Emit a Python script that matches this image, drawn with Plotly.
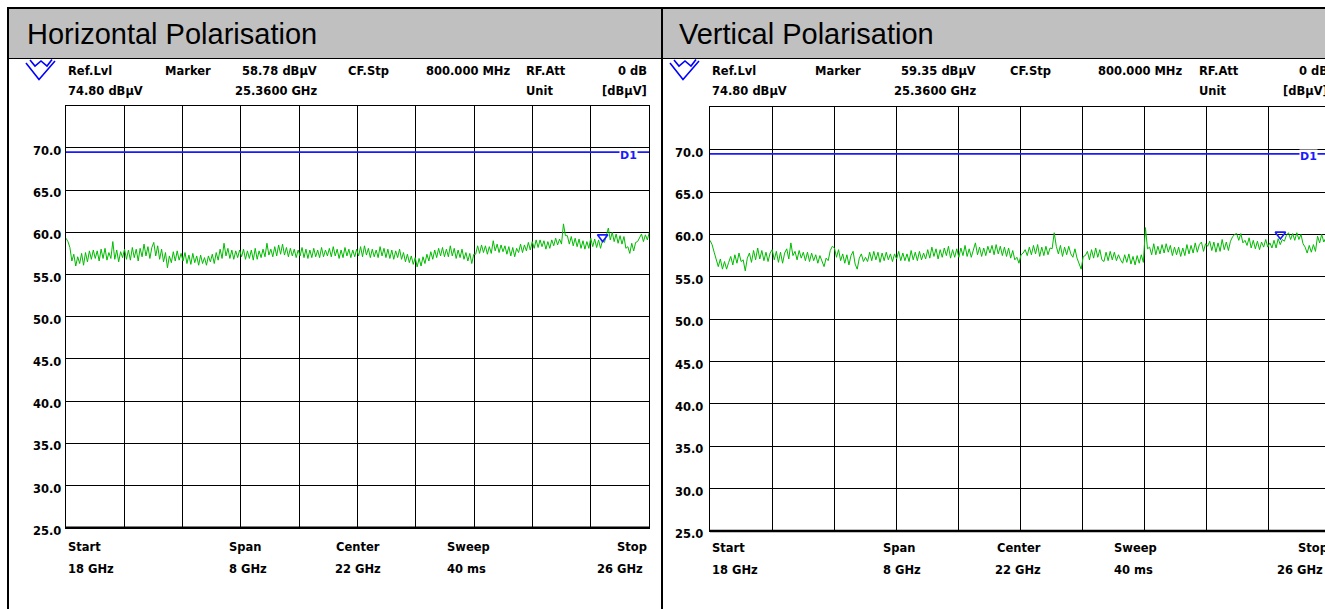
import numpy as np
import plotly.graph_objects as go

# ---------------- data ----------------
start_ghz = 18.0
stop_ghz = 26.0
y_ticks = [25, 30, 35, 40, 45, 50, 55, 60, 65, 70]
y_bottom = 25.0
y_top = 75.0
d1_level = 69.5

titles = ["Horizontal Polarisation", "Vertical Polarisation"]
marker_freq = [25.36, 25.36]
marker_level = [58.78, 59.35]
marker_text = ["58.78 dBµV", "59.35 dBµV"]

h_level = [
    59.3, 58.9, 58.2, 56.6, 57.4, 56.0, 57.1, 56.3, 57.5, 56.1, 57.6, 56.5, 57.8, 56.8, 57.9,
    56.9, 57.8, 56.6, 58.0, 56.9, 58.1, 56.7, 57.6, 56.9, 58.9, 56.8, 57.9, 56.5, 57.7, 57.0,
    58.0, 56.8, 57.9, 56.7, 58.2, 57.0, 58.0, 56.6, 58.1, 57.1, 58.6, 57.2, 58.3, 56.9, 58.2,
    58.8, 57.2, 58.4, 56.8, 58.0, 56.5, 57.6, 55.8, 57.2, 56.4, 57.7, 56.6, 57.8, 56.7, 57.5,
    56.6, 57.6, 56.3, 57.3, 56.2, 57.5, 56.4, 57.2, 56.1, 57.3, 56.3, 57.0, 56.1, 57.2, 56.5,
    57.4, 56.3, 57.6, 56.7, 58.0, 56.9, 58.7, 57.2, 58.1, 56.9, 57.9, 56.8, 57.8, 57.0, 57.9,
    57.1, 58.0, 56.8, 57.8, 56.9, 57.9, 56.7, 58.1, 56.8, 57.8, 57.0, 58.0, 57.1, 58.7, 57.3,
    58.0, 57.1, 58.3, 57.2, 58.5, 57.4, 58.6, 57.3, 58.2, 57.1, 58.1, 57.2, 58.0, 57.0, 57.9,
    57.2, 58.2, 57.0, 58.0, 56.9, 57.9, 57.0, 58.1, 57.1, 57.9, 57.0, 58.2, 57.1, 57.9, 57.2,
    58.1, 57.1, 58.3, 57.2, 58.0, 56.9, 57.9, 57.0, 58.2, 57.2, 58.0, 57.0, 57.9, 57.1, 58.0,
    57.2, 58.3, 57.1, 58.4, 57.3, 58.1, 57.0, 58.0, 57.1, 57.9, 57.0, 58.3, 57.2, 58.1, 57.0,
    58.0, 56.9, 57.9, 56.8, 57.8, 57.0, 58.0, 56.8, 57.6, 56.5, 57.4, 56.4, 57.2, 56.2, 57.0,
    55.9, 56.9, 56.0, 57.1, 56.3, 57.4, 56.6, 57.7, 56.8, 57.9, 57.0, 58.1, 57.2, 58.2, 57.1,
    58.0, 57.1, 58.4, 57.2, 58.1, 56.9, 57.9, 57.0, 58.0, 56.8, 57.6, 56.6, 57.5, 56.3, 57.4,
    57.4, 58.4, 57.5, 58.5, 57.6, 58.4, 57.4, 58.3, 57.5, 59.0, 57.8, 58.6, 57.6, 58.5, 57.7,
    58.4, 57.4, 58.3, 57.2, 58.2, 57.1, 58.1, 57.6, 58.6, 57.6, 58.5, 57.8, 58.8, 57.9, 58.9,
    58.1, 59.1, 58.2, 59.1, 58.3, 59.0, 58.0, 58.9, 58.1, 59.1, 58.4, 59.3, 58.5, 59.2, 58.6,
    61.0, 59.6, 59.6, 58.6, 59.5, 58.4, 59.3, 58.3, 59.2, 58.1, 59.0, 58.0, 58.9, 58.1, 59.3,
    58.3, 59.2, 58.2, 59.1, 58.1, 59.0, 58.8, 59.8, 60.5, 59.1, 60.0, 58.9, 59.8, 58.7, 59.6,
    58.6, 59.5, 58.1, 58.3, 57.5, 58.7, 57.8, 58.8, 58.9, 59.3, 59.8, 58.9, 59.7, 59.1, 60.0,
]

v_level = [
    59.3, 58.8, 57.9, 57.0, 56.2, 57.1, 55.9, 56.8, 55.9, 56.7, 57.4, 56.4, 57.6, 56.6, 57.8,
    56.8, 57.0, 55.7, 57.2, 57.8, 56.7, 58.1, 57.0, 58.4, 57.1, 58.1, 56.9, 57.9, 56.8, 57.8,
    58.2, 57.0, 58.0, 56.7, 57.9, 56.6, 57.8, 58.3, 57.1, 59.0, 57.5, 58.0, 57.0, 58.1, 57.2,
    57.9, 56.9, 57.9, 56.8, 57.8, 56.9, 57.6, 56.6, 57.5, 56.8, 56.2, 57.2, 56.9, 58.1, 58.6,
    58.4, 57.3, 58.2, 56.9, 57.7, 56.6, 57.6, 56.4, 57.5, 58.0, 56.5, 55.9, 57.2, 57.7, 56.8,
    57.3, 56.8, 57.9, 56.9, 58.0, 57.0, 57.9, 56.7, 57.8, 56.9, 57.9, 57.0, 57.7, 56.8, 57.7,
    57.1, 58.0, 56.9, 57.8, 56.9, 57.7, 56.8, 58.1, 57.0, 57.9, 56.9, 58.0, 57.0, 57.8, 57.1,
    58.2, 57.2, 58.5, 57.4, 58.3, 57.1, 58.2, 57.3, 58.4, 57.5, 58.6, 57.2, 58.2, 57.3, 58.3,
    57.3, 58.4, 57.5, 58.7, 57.4, 58.3, 57.3, 58.2, 59.0, 57.6, 58.5, 57.4, 58.4, 57.5, 58.6,
    57.8, 58.7, 57.6, 58.8, 57.7, 58.6, 57.5, 58.5, 57.4, 58.4, 57.2, 58.1, 57.0, 57.3, 56.6,
    57.6, 57.8, 58.2, 57.5, 58.5, 57.6, 58.7, 57.7, 58.8, 57.4, 58.5, 57.5, 58.6, 57.6, 58.4,
    58.3, 60.2, 58.6, 57.7, 58.7, 57.4, 58.5, 57.6, 58.6, 57.7, 57.3, 58.3, 57.2, 56.6, 55.9,
    57.4, 57.5, 58.0, 57.0, 58.2, 57.2, 58.4, 57.3, 58.2, 57.0, 56.8, 57.9, 56.9, 58.0, 57.0,
    57.9, 56.9, 57.6, 57.0, 56.6, 57.6, 56.7, 57.7, 56.5, 57.4, 56.4, 57.5, 56.6, 57.6, 56.7,
    60.8, 58.3, 58.5, 57.6, 58.9, 57.6, 58.6, 57.7, 58.8, 57.8, 58.9, 57.9, 58.7, 57.5, 58.5,
    57.6, 58.5, 57.4, 58.4, 57.5, 58.8, 57.7, 58.7, 57.8, 59.0, 57.9, 58.8, 59.1, 58.0, 58.9,
    58.6, 59.2, 58.1, 59.1, 57.9, 59.0, 58.0, 59.4, 58.2, 59.1, 58.1, 59.2, 59.7, 60.0, 60.1,
    59.3, 60.1, 59.0, 59.3, 58.7, 59.6, 58.4, 59.3, 58.3, 59.2, 58.2, 59.1, 58.5, 59.4, 58.5,
    59.0, 58.4, 59.3, 58.4, 59.5, 58.8, 59.4, 59.2, 59.9, 60.2, 59.4, 60.1, 59.3, 60.2, 59.4,
    60.0, 58.9, 58.5, 57.8, 58.7, 57.9, 58.8, 58.0, 59.8, 59.0, 60.0, 59.1, 59.7, 60.1, 59.5,
]
levels = [h_level, v_level]

header_row1 = [("Ref.Lvl", 0.0, "left"), ("Marker", 0.166, "left"), (None, 0.433, "right"),
               ("CF.Stp", 0.48, "left"), ("800.000 MHz", 0.764, "right"),
               ("RF.Att", 0.785, "left"), ("0 dB", 1.0, "right")]
header_row2 = [("74.80 dBµV", 0.0, "left"), ("25.3600 GHz", 0.433, "right"),
               ("Unit", 0.786, "left"), ("[dBµV]", 1.0, "right")]
footer_row1 = [("Start", 0.0, "left"), ("Span", 0.276, "left"), ("Center", 0.46, "left"),
               ("Sweep", 0.649, "left"), ("Stop", 1.0, "right")]
footer_row2 = [("18 GHz", 0.0, "left"), ("8 GHz", 0.276, "left"), ("22 GHz", 0.457, "left"),
               ("40 ms", 0.649, "left"), ("26 GHz", 0.992, "right")]

# ---------------- layout geometry ----------------
W, H = 1325, 609
def px(x):
    return x / W
def py(y):
    return 1 - y / H

panels = [
    dict(x0=66.0, w=583.3, top=105.7, bot=527.7, rows=(70.5, 91.2, 547.3, 569.0), title_x=25, ylab_shift=-3),
    dict(x0=710.0, w=620.0, top=107.3, bot=531.0, rows=(71.3, 91.3, 548.3, 570.0), title_x=677, ylab_shift=-5),
]

MONO = dict(family="DejaVu Sans", size=11.5, color="#000000", weight="bold")
GREEN = "#00bb00"
BLUE = "#1a1aff"

fig = go.Figure()
annotations = []
shapes = []

for i, p in enumerate(panels):
    xa = "x" if i == 0 else "x2"
    ya = "y" if i == 0 else "y2"
    freq = np.linspace(start_ghz, stop_ghz, len(levels[i]))
    fig.add_trace(go.Scatter(x=freq, y=levels[i], mode="lines",
                             line=dict(color=GREEN, width=1), xaxis=xa, yaxis=ya,
                             hoverinfo="skip", showlegend=False))
    fig.add_trace(go.Scatter(x=[start_ghz, stop_ghz], y=[d1_level, d1_level], mode="lines",
                             line=dict(color=BLUE, width=1.6), xaxis=xa, yaxis=ya,
                             hoverinfo="skip", showlegend=False))
    fig.add_trace(go.Scatter(x=[marker_freq[i]], y=[marker_level[i] + 0.65], mode="markers",
                             marker=dict(symbol="triangle-down-open", size=9, color=BLUE,
                                         line=dict(color=BLUE, width=1.6)),
                             xaxis=xa, yaxis=ya, hoverinfo="skip", showlegend=False))

    x_right_px = min(p["x0"] + p["w"], W)
    x_stop_vis = start_ghz + (stop_ghz - start_ghz) * (x_right_px - p["x0"]) / p["w"]
    xkey = "xaxis" if i == 0 else "xaxis2"
    ykey = "yaxis" if i == 0 else "yaxis2"
    fig.layout[xkey] = dict(domain=[px(p["x0"]), px(x_right_px)], range=[start_ghz, x_stop_vis],
                            showgrid=True, gridcolor="#000000", gridwidth=1, tick0=start_ghz,
                            dtick=(stop_ghz - start_ghz) / 10, showticklabels=False, ticks="",
                            zeroline=False, showline=True, linecolor="#000000", linewidth=1,
                            mirror=True, anchor=ya, fixedrange=True)
    fig.layout[ykey] = dict(domain=[py(p["bot"]), py(p["top"])], range=[y_bottom, y_top],
                            showgrid=True, gridcolor="#000000", gridwidth=1, tick0=y_bottom,
                            dtick=5, showticklabels=False, ticks="", zeroline=False,
                            showline=True, linecolor="#000000", linewidth=1,
                            mirror=(i == 0), anchor=xa, fixedrange=True)

    # thick bottom axis line
    shapes.append(dict(type="line", xref=f"{xa} domain", yref=f"{ya} domain",
                       x0=0, x1=1, y0=0, y1=0, line=dict(color="#000000", width=2.5)))

    # y labels
    for t in y_ticks:
        annotations.append(dict(xref=f"{xa} domain", yref=ya, x=0, y=t, text=f"{t:.1f}",
                                xanchor="right", yanchor="middle", xshift=p["ylab_shift"], yshift=-3,
                                showarrow=False, font=MONO))
    # D1 label
    annotations.append(dict(xref=xa, yref=ya, x=start_ghz + (stop_ghz - start_ghz) * 0.981, y=d1_level,
                            text="D1", xanchor="right", yanchor="middle", yshift=-3,
                            showarrow=False, bgcolor="#ffffff", borderpad=0,
                            font=dict(family="DejaVu Sans", size=11, color=BLUE, weight="bold")))

    def add_row(items, ypix):
        for txt, f, anc in items:
            if txt is None:
                txt = marker_text[i]
            annotations.append(dict(xref="paper", yref="paper", x=px(p["x0"] + f * p["w"]), y=py(ypix),
                                    text=txt, xanchor=anc, yanchor="middle", showarrow=False, font=MONO))
    add_row(header_row1, p["rows"][0])
    add_row(header_row2, p["rows"][1])
    add_row(footer_row1, p["rows"][2])
    add_row(footer_row2, p["rows"][3])

    # title in grey header
    annotations.append(dict(xref="paper", yref="paper", x=px(p["title_x"]), y=py(34), text=titles[i],
                            xanchor="left", yanchor="middle", showarrow=False,
                            font=dict(family="Liberation Sans", size=29, color="#000000")))

    # analyser logo
    lx = p["x0"]
    path = (f"M {px(lx-40)},{py(63)} L {px(lx-27)},{py(79.5)} L {px(lx-11)},{py(61)} "
            f"M {px(lx-36)},{py(60)} L {px(lx-31)},{py(66)} L {px(lx-25)},{py(61)} L {px(lx-19)},{py(66)} L {px(lx-14)},{py(59.5)}")
    shapes.append(dict(type="path", xref="paper", yref="paper", path=path,
                       line=dict(color="#0000ff", width=1.6)))

# frame / header
shapes.insert(0, dict(type="rect", xref="paper", yref="paper", x0=px(9), x1=1, y0=py(58.5), y1=py(9),
                      fillcolor="#c0c0c0", line=dict(width=0), layer="below"))
shapes += [
    dict(type="line", xref="paper", yref="paper", x0=px(8), x1=1, y0=py(58.5), y1=py(58.5),
         line=dict(color="#000000", width=1)),
    dict(type="line", xref="paper", yref="paper", x0=px(7), x1=1, y0=py(8), y1=py(8),
         line=dict(color="#000000", width=2)),
    dict(type="line", xref="paper", yref="paper", x0=px(8), x1=px(8), y0=0, y1=py(7),
         line=dict(color="#000000", width=2)),
    dict(type="line", xref="paper", yref="paper", x0=px(662), x1=px(662), y0=0, y1=py(7),
         line=dict(color="#000000", width=2)),
]

fig.update_layout(width=W, height=H, margin=dict(l=0, r=0, t=0, b=0),
                  paper_bgcolor="#ffffff", plot_bgcolor="#ffffff",
                  annotations=annotations, shapes=shapes, showlegend=False)

fig.write_html("out.html", config={"displayModeBar": False},
               post_script="document.body.style.margin='0';document.body.style.overflow='hidden';")
